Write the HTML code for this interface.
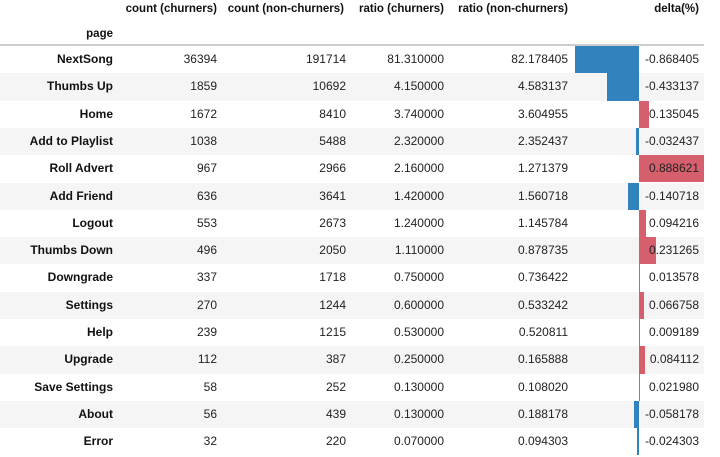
<!DOCTYPE html>
<html><head><meta charset="utf-8"><style>
body{margin:0;width:720px;height:457px;background:#fff;font-family:"Liberation Sans",Arial,sans-serif;font-size:12px;color:#222;position:relative;overflow:hidden}
.c{position:absolute;white-space:nowrap;text-align:right;line-height:27.3px}
.h{position:absolute;white-space:nowrap;font-weight:bold;line-height:16px;font-size:11.5px;color:#111;text-align:right}
.row{position:absolute;left:0;width:704px;height:27.3px}
.bar{position:absolute;height:27.3px}
</style></head><body>
<div id="tbl">
<div class="h" style="top:1px;right:503px">count (churners)</div>
<div class="h" style="top:1px;right:376px">count (non-churners)</div>
<div class="h" style="top:1px;right:276px">ratio (churners)</div>
<div class="h" style="top:1px;right:152px">ratio (non-churners)</div>
<div class="h" style="top:1px;right:21px">delta(%)</div>
<div class="h" style="top:26px;right:607px">page</div>
<div style="position:absolute;left:0;top:44px;width:704px;height:2px;background:#ccc"></div>
</div>
<script>
const pages=["NextSong","Thumbs Up","Home","Add to Playlist","Roll Advert","Add Friend","Logout","Thumbs Down","Downgrade","Settings","Help","Upgrade","Save Settings","About","Error"];
const countChurn=[36394,1859,1672,1038,967,636,553,496,337,270,239,112,58,56,32];
const countNon=[191714,10692,8410,5488,2966,3641,2673,2050,1718,1244,1215,387,252,439,220];
const ratioChurn=[81.31,4.15,3.74,2.32,2.16,1.42,1.24,1.11,0.75,0.6,0.53,0.25,0.13,0.13,0.07];
const ratioNon=[82.178405,4.583137,3.604955,2.352437,1.271379,1.560718,1.145784,0.878735,0.736422,0.533242,0.520811,0.165888,0.10802,0.188178,0.094303];
const delta=[-0.868405,-0.433137,0.135045,-0.032437,0.888621,-0.140718,0.094216,0.231265,0.013578,0.066758,0.009189,0.084112,0.02198,-0.058178,-0.024303];
const tbl=document.getElementById('tbl');
const RH=27.3,TOP=46,BL=575,BR=704;
const dmin=Math.min(0,...delta),dmax=Math.max(0,...delta);
const xs=v=>BL+(v-dmin)/(dmax-dmin)*(BR-BL);
const x0=xs(0);
function cell(txt,right,top,bold,name){
  const d=document.createElement('div');d.className='c';
  d.style.right=right+'px';d.style.top=top+'px';
  if(bold){d.style.fontWeight='bold';d.style.color='#111';}
  d.textContent=txt;
  
  
  tbl.appendChild(d);
}
pages.forEach((p,i)=>{
  const top=TOP+i*RH;
  const r=document.createElement('div');r.className='row';r.style.top=top+'px';
  r.style.background=i%2?'#f5f5f5':'#fff';
  
  
  tbl.appendChild(r);
  const b=document.createElement('div');b.className='bar';b.style.top=top+'px';
  const x1=xs(delta[i]);
  b.style.left=Math.min(x0,x1)+'px';b.style.width=Math.max(1,Math.abs(x1-x0))+'px';
  b.style.background=delta[i]<0?'#3182bd':'#d65f6e';
  
  
  tbl.appendChild(b);
  cell(p,607,top,true,'page-label');
  cell(String(countChurn[i]),503,top,false,'count-churners-cell');
  cell(String(countNon[i]),374,top,false,'count-non-churners-cell');
  cell(ratioChurn[i].toFixed(6),276,top,false,'ratio-churners-cell');
  cell(ratioNon[i].toFixed(6),152,top,false,'ratio-non-churners-cell');
  cell(delta[i].toFixed(6),21,top,false,'delta-cell');
});
</script>
</body></html>
